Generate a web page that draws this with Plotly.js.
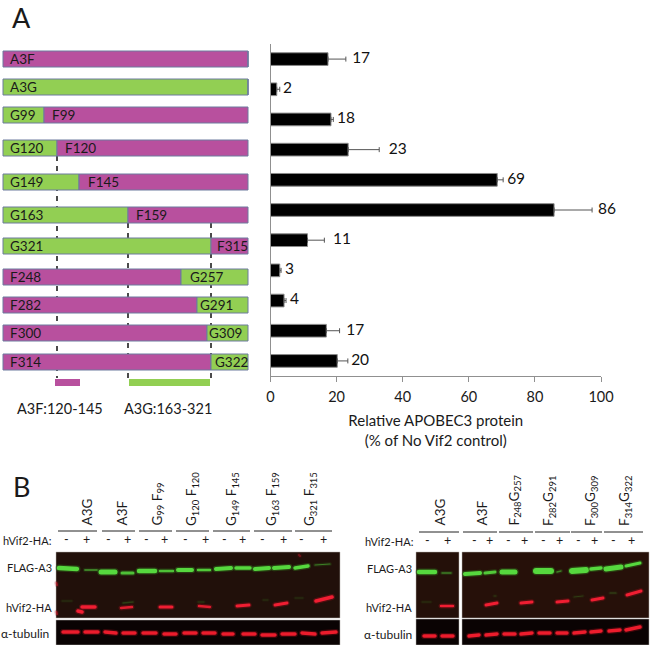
<!DOCTYPE html>
<html><head><meta charset="utf-8">
<script src="https://cdn.plot.ly/plotly-3.0.1.min.js"></script>
<style>html,body{margin:0;padding:0;background:#fff}
.scatterlayer .js-line{stroke-linecap:round;filter:blur(0.7px)}</style></head>
<body><div id="chart" style="width:650px;height:645px"></div>
<script>
const FONT = 'Lato, "Open Sans", sans-serif';
const PINK = '#b8509e', GREEN = '#92cf53', EDGE = '#6c7a9e';

// Panel A, right: measured protein levels
const constructs = ['A3F','A3G','G99F99','G120F120','G149F145','G163F159','G321F315','F248G257','F282G291','F300G309','F314G322'];
const meanValues = [17.4,1.9,18.3,23.5,68.6,85.8,11.2,2.8,4.1,16.9,20.2];
const errorPlus  = [5.4,0.9,0.7,9.4,1.8,11.5,5.1,0.4,0.6,4.0,3.2];
const valueLabels= ['17','2','18','23','69','86','11','3','4','17','20'];
const labelAnchor= [24.7,3.8,20.1,35.8,71.6,99.1,18.9,4.4,5.9,22.9,24.4];
const xTicks = [0,20,40,60,80,100];

// Panel A, left: chimera schematic (page-pixel scale)
const rowY      = [59,87,115,148,182,215,246,277,305,333,362];
const barStart  = 3, barEnd = 248;
const junction  = [248,248,44,57,79,128,211,181,197,207,211];
const firstKind = ['F','G','G','G','G','G','G','F','F','F','F'];
const firstLabel= ['A3F','A3G','G99','G120','G149','G163','G321','F248','F282','F300','F314'];
const secondLabel=['','','F99','F120','F145','F159','F315','G257','G291','G309','G322'];
const secondLabelX=[0,0,51,64,87,135,216,189,199,208,214];
const guides = [[57,156,378],[128,223,383],[211,223,383]];
const regions = [[55,80,PINK],[129,210,GREEN]];
const regionNames = [['A3F:120-145',60],['A3G:163-321',168]];

// Panel B: lane labels, centred x / baseline-end
const laneTextsL = ['A3G','A3F','G<sub>99</sub> F<sub>99</sub>','G<sub>120</sub> F<sub>120</sub>','G<sub>149</sub> F<sub>145</sub>','G<sub>163</sub> F<sub>159</sub>','G<sub>321</sub> F<sub>315</sub>'];
const laneXL = [86,121,157,192,232,272,310];
const laneTextsR = ['A3G','A3F','F<sub>248</sub>G<sub>257</sub>','F<sub>282</sub>G<sub>291</sub>','F<sub>300</sub>G<sub>309</sub>','F<sub>314</sub>G<sub>322</sub>'];
const laneXR = [439,481,514,549,591,625];
const laneRulesL = [[58,97],[102,135],[139,172],[176,209],[213,250],[254,292],[295,332]];
const laneRulesR = [[419,459],[463,497],[499,533],[535,570],[571,602],[604,643]];
const signXL = [66,86,108,127,146,164,185,205,224,242,262,283,301,323];
const signXR = [427,447,474,489,508,524,543,559,578,594,613,631];

// Blot panels [x0,x1,y0,y1,colour]
const blotPanels = [
 [56,340,552,618,'#21100a'],[56,340,620,645,'#0a0303'],
 [416,459,552,618,'#241009'],[416,459,619,645,'#0a0303'],
 [462,649,552,618,'#261009'],[462,649,619,645,'#0a0303']
];
// Bands [x0,x1,y0,y1,thickness,brightness]
const greenBands = [
 [59,77,568,569,4.5,1],[85,97,570,570,1.8,.5],[101,115,572,572,5,1],[122,133,573,573,3,.85],[139,155,571,571,4.5,1],[160,173,571,571,2.5,.85],
 [178,192,570,570,4,1],[198,210,570,570,2.5,.9],[216,231,569,568,4,1],[236,250,568,568,3.5,1],[255,269,569,568,4,1],[274,289,568,567,4,1],
 [295,308,568,566,3.5,1],[315,330,565,564,1.2,.5],
 [419,435,572,572,4.5,1],[442,451,573,573,1.5,.5],[465,480,574,573,4,1],[485,495,573,572,3,.9],[502,515,572,572,5,1],
 [536,551,571,571,6,1],[557,561,572,571,1.5,.5],[572,586,571,570,6,1],[591,601,569,568,3.5,1],[606,621,569,567,5,1],[626,640,566,563,3,1],
 [62,72,601,601,1,.15],[123,133,603,602,1.5,.2],[198,204,602,602,1,.2],[263,268,600,600,1,.15],[295,303,598,598,1,.15],
 [422,431,602,602,1,.15],[494,496,596,596,1,.2],[574,583,597,596,1,.2],[610,616,593,593,1.2,.25]
];
const redBands = [
 [82,95,607,607,3.5,1],[78,82,611,612,3.5,1],[121,132,608,607,2.5,.9],[160,172,607,607,3,1],[199,210,606,607,2.5,.9],[237,249,606,605,3,1],[275,287,605,603,3,1],[316,332,601,597,3.5,1],
 [441,453,606,606,2.5,1],[486,497,605,603,3,1],[521,532,603,602,3,1],[557,568,602,601,3,1],[592,603,600,598,3,1],[627,641,595,591,3,1],
 [56.5,57,583,585,2,.5],[56.5,57,612,614,2,.5],[299,300,555,556,2,.35]
];
const tubulinBands = [
 [63,78,632,632,3.5],[85,98,632,632,3.5],[105,116,632,633,3.5],[123,135,633,633,3.5],[143,156,633,633,3.5],[164,176,634,634,3.5],[184,196,633,633,3.5],[203,215,633,633,3.5],
 [223,233,634,634,3.5],[243,255,634,634,3.5],[262,275,635,635,3.5],[282,295,634,634,3.5],[302,315,633,634,3.5],[322,336,633,632,3.5],
 [424,435,636,636,3.5],[442,453,636,636,3.5],[469,479,636,635,3.5],[486,497,635,634,3.5],[504,515,634,634,3.5],[521,532,634,633,3.5],[539,550,633,633,3.5],[557,567,633,633,3.5],
 [574,585,633,632,3.5],[591,601,632,631,3.5],[609,620,631,630,3.5],[626,640,630,627,3.5]
];

const traces = [];
// main bars
traces.push({type:'bar',orientation:'h',x:meanValues,y:constructs,width:0.42,xaxis:'x',yaxis:'y',
  marker:{color:'#000',line:{color:'#8a8a8a',width:1}},hoverinfo:'skip',
  error_x:{type:'data',array:errorPlus,symmetric:false,arrayminus:errorPlus.map(()=>0),color:'#555',thickness:1,width:2.5}});
traces.push({type:'scatter',mode:'text',x:labelAnchor,y:constructs,text:valueLabels,textposition:'middle right',
  xaxis:'x',yaxis:'y',textfont:{family:FONT,size:15.5,color:'#111'},hoverinfo:'skip',cliponaxis:false});
// schematic
traces.push({type:'bar',orientation:'h',y:rowY,base:rowY.map(()=>barStart),x:junction.map(j=>j-barStart),width:16,
  xaxis:'x2',yaxis:'y2',hoverinfo:'skip',
  marker:{color:firstKind.map(k=>k==='F'?PINK:GREEN),line:{color:EDGE,width:1}}});
traces.push({type:'bar',orientation:'h',y:rowY,base:junction,x:junction.map(j=>barEnd-j),width:16,
  xaxis:'x2',yaxis:'y2',hoverinfo:'skip',
  marker:{color:firstKind.map(k=>k==='F'?GREEN:PINK),line:{color:EDGE,width:1}}});
// bands
function band(b,rgb,glow){
  const a=(b[5]===undefined?1:b[5]);
  traces.push({type:'scatter',mode:'lines',x:[b[0],b[1]],y:[b[2],b[3]],xaxis:'x2',yaxis:'y2',hoverinfo:'skip',
    line:{color:`rgba(${glow},${0.4*a})`,width:b[4]+2.5}});
  traces.push({type:'scatter',mode:'lines',x:[b[0],b[1]],y:[b[2],b[3]],xaxis:'x2',yaxis:'y2',hoverinfo:'skip',
    line:{color:`rgba(${rgb},${a})`,width:b[4]}});
}
greenBands.forEach(b=>band(b,'86,216,62','50,130,30'));
redBands.forEach(b=>band(b,'240,30,50','150,15,25'));
tubulinBands.forEach(b=>band(b,'236,28,44','140,12,22'));

const shapes = [];
guides.forEach(g=>shapes.push({type:'line',xref:'x2',yref:'y2',x0:g[0],x1:g[0],y0:g[1],y1:g[2],layer:'below',
  line:{color:'#111',width:1.5,dash:'5px,5px'}}));
regions.forEach(r=>shapes.push({type:'rect',xref:'x2',yref:'y2',x0:r[0],x1:r[1],y0:379,y1:386,layer:'below',
  fillcolor:r[2],line:{width:0}}));
blotPanels.forEach(p=>shapes.push({type:'rect',xref:'x2',yref:'y2',x0:p[0],x1:p[1],y0:p[2],y1:p[3],layer:'below',
  fillcolor:p[4],line:{color:'#b5b0ac',width:0.5}}));
laneRulesL.concat(laneRulesR).forEach((r,i)=>shapes.push({type:'line',xref:'x2',yref:'y2',x0:r[0],x1:r[1],
  y0:i<laneRulesL.length?531:532,y1:i<laneRulesL.length?531:532,line:{color:'#222',width:1}}));

const ann = [];
function T(text,x,y,size,anchor,extra){
  ann.push(Object.assign({text,x,y,xref:'x2',yref:'y2',showarrow:false,xanchor:anchor||'left',yanchor:'middle',
    align:'left',borderpad:0,font:{family:FONT,size,color:'#1a1a1a'}},extra||{}));
}
T('A',21,17,27,'center');
T('B',21,486,27,'center');
rowY.forEach((y,i)=>{
  T(firstLabel[i],9,y,13.5,'left');
  if(secondLabel[i]) T(secondLabel[i],secondLabelX[i],y,13.5,'left');
});
regionNames.forEach(r=>T(r[0],r[1],408,14.5,'center'));
laneTextsL.forEach((t,i)=>T(t,laneXL[i],527,13.5,'center',{textangle:-90,yanchor:'bottom'}));
laneTextsR.forEach((t,i)=>T(t,laneXR[i],527,13.5,'center',{textangle:-90,yanchor:'bottom'}));
signXL.forEach((x,i)=>T(i%2?'+':'-',x,539,12.5,'center'));
signXR.forEach((x,i)=>T(i%2?'+':'-',x,540,12.5,'center'));
T('hVif2-HA:',53,540,11,'right');
T('FLAG-A3',6,567,11,'left');
T('hVif2-HA',5,607,11,'left');
T('\u03b1-tubulin',0,633,12,'left');
T('hVif2-HA:',415,541,11,'right');
T('FLAG-A3',413,568,11,'right');
T('hVif2-HA',413,607,11,'right');
T('\u03b1-tubulin',413,634,12,'right');

const layout = {
  width:650,height:645,margin:{l:0,r:0,t:0,b:0},paper_bgcolor:'#fff',plot_bgcolor:'rgba(0,0,0,0)',
  showlegend:false,barmode:'overlay',font:{family:FONT,color:'#1a1a1a'},
  xaxis:{domain:[270.5/650,601/650],range:[0,100],tickvals:xTicks,ticks:'outside',ticklen:5,tickcolor:'#909090',tickwidth:1,
    showline:true,linecolor:'#909090',linewidth:1,showgrid:false,zeroline:false,anchor:'y',ticklabelstandoff:3,
    tickfont:{family:FONT,size:14.5,color:'#1a1a1a'},
    title:{text:'Relative APOBEC3 protein<br>(% of No Vif2 control)',font:{family:FONT,size:15,color:'#1a1a1a'},standoff:11}},
  yaxis:{domain:[1-376/645,1-44/645],type:'category',categoryorder:'array',categoryarray:constructs,range:[10.5,-0.5],anchor:'x',
    showticklabels:false,ticks:'',showline:true,linecolor:'#909090',linewidth:1,showgrid:false,zeroline:false},
  xaxis2:{domain:[0,1],range:[0,650],visible:false,fixedrange:true,anchor:'y2'},
  yaxis2:{domain:[0,1],range:[645,0],visible:false,fixedrange:true,anchor:'x2'},
  shapes,annotations:ann
};
Plotly.newPlot('chart',traces,layout,{displayModeBar:false,staticPlot:true});
</script></body></html>
